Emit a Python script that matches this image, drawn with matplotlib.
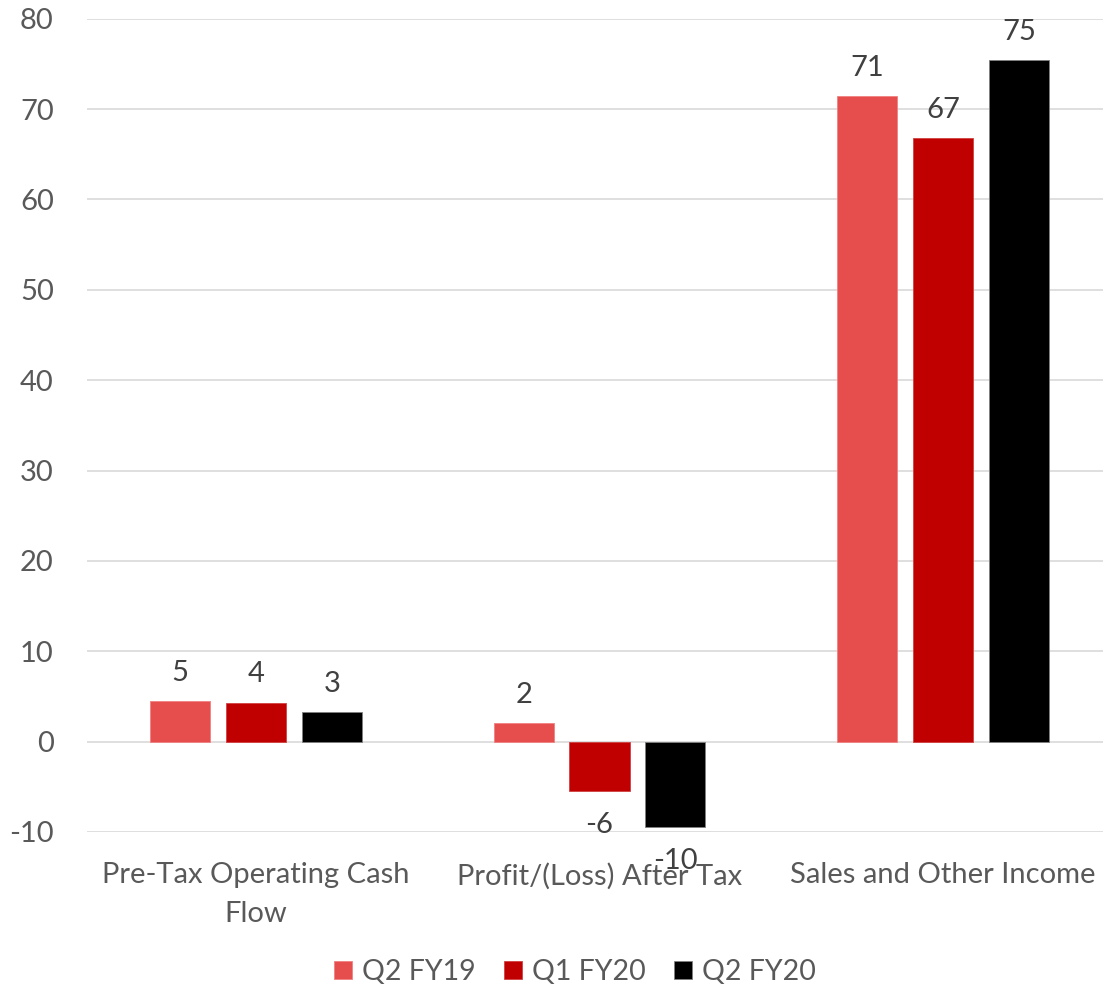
"""
Grouped bar chart: cash flow, profit and sales by quarter
"""
import matplotlib
matplotlib.use("Agg")
import matplotlib.pyplot as plt
import numpy as np

# Data
categories = ["Pre-Tax Operating Cash\nFlow", "Profit/(Loss) After Tax", "Sales and Other Income"]
series_names = ["Q2 FY19", "Q1 FY20", "Q2 FY20"]
q2_fy19 = [4.45, 2.0, 71.4]
q1_fy20 = [4.3, -5.5, 66.8]
q2_fy20 = [3.25, -9.5, 75.4]
q2_fy19_labels = ["5", "2", "71"]
q1_fy20_labels = ["4", "-6", "67"]
q2_fy20_labels = ["3", "-10", "75"]
y_ticks = [-10, 0, 10, 20, 30, 40, 50, 60, 70, 80]

colors = ["#E64D4D", "#C00000", "#000000"]
edge_colors = ["#F08080", "#D04040", "#808080"]

plt.rcParams["font.family"] = ["Lato", "DejaVu Sans"]
plt.rcParams["axes.unicode_minus"] = False

fig = plt.figure(figsize=(11.03, 9.88), dpi=100)
ax = fig.add_axes([0.079, 0.158, 0.921, 0.823])

x = np.arange(len(categories))
width = 0.175
step = 0.221

all_values = [q2_fy19, q1_fy20, q2_fy20]
all_labels = [q2_fy19_labels, q1_fy20_labels, q2_fy20_labels]

for i, (vals, labs) in enumerate(zip(all_values, all_labels)):
    pos = x + (i - 1) * step
    bars = ax.bar(pos, vals, width, color=colors[i], edgecolor=edge_colors[i],
                  linewidth=0.6, label=series_names[i], zorder=3)
    for b, v, lab in zip(bars, vals, labs):
        if v >= 0:
            ax.annotate(lab, (b.get_x() + b.get_width() / 2, v), xytext=(0, 11),
                        textcoords="offset points", ha="center", va="bottom",
                        fontsize=21, color="#404040", zorder=4)
        else:
            ax.annotate(lab, (b.get_x() + b.get_width() / 2, v), xytext=(0, -15),
                        textcoords="offset points", ha="center", va="top",
                        fontsize=21, color="#404040", zorder=4)

ax.set_xlim(-0.492, 2.466)
ax.set_ylim(-10, 80)
ax.set_yticks(y_ticks)
ax.set_xticks(x)
ax.set_xticklabels(categories, linespacing=1.6)
ax.tick_params(axis="y", length=0, pad=24, labelsize=21, labelcolor="#595959")
ax.tick_params(axis="x", length=0, pad=22, labelsize=21, labelcolor="#595959")
ax.grid(axis="y", color="#D9D9D9", linewidth=1.2, zorder=0)
for s in ax.spines.values():
    s.set_visible(False)

fig.legend(loc="center", bbox_to_anchor=(575 / 1103, 1 - 972 / 988), ncol=3,
           frameon=False, fontsize=20.5, labelcolor="#595959", handlelength=0.62,
           handleheight=0.62, handletextpad=0.35, columnspacing=1.0)

plt.savefig("out.png", dpi=100)
